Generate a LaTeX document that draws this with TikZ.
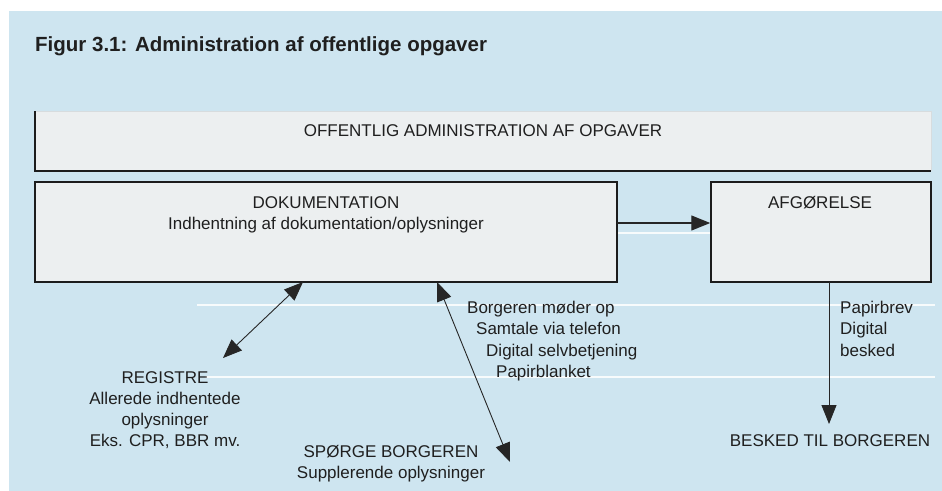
\documentclass[tikz,border=0pt]{standalone}
\usepackage{fontspec}
\setmainfont{Liberation Sans}
\usetikzlibrary{arrows.meta}
\definecolor{bgblue}{RGB}{206,229,240}
\definecolor{boxfill}{RGB}{236,239,240}
\definecolor{edgecol}{RGB}{28,28,28}
\definecolor{lightedge}{RGB}{215,220,222}
\begin{document}
\begin{tikzpicture}[x=1pt,y=-1pt,
  txt/.style={inner sep=0pt, font=\fontsize{17}{21}\selectfont, text=black!88},
  boxnode/.style={draw=edgecol, line width=1.5pt, fill=boxfill, inner sep=0pt},
  conn/.style={draw=black!85, line width=0.9pt},
  tip/.style={-{Triangle[length=19pt,width=15pt]}},
  twotip/.style={{Triangle[length=19pt,width=15pt]}-{Triangle[length=19pt,width=15pt]}},
  artline/.style={draw=white, line width=1.6pt, opacity=0.85}
]
\useasboundingbox (0,0) rectangle (942,490);
\fill[white] (0,0) rectangle (942,490);
\fill[bgblue] (9,11) rectangle (943,491);

% faint horizontal white lines of the original
\draw[artline] (197,305) -- (935,305);
\draw[artline] (205,377) -- (935,377);
\draw[artline] (617,233) -- (711,233);

% title
\node[anchor=base west, inner sep=0pt, font=\fontsize{20.5}{24}\selectfont\bfseries, text=black!88] (title) at (35,51) {Figur 3.1: Administration af offentlige opgaver};

% top box
\fill[boxfill] (35,111) rectangle (931,171);
\draw[lightedge, line width=1pt] (35,111) -- (931,111) -- (931,171);
\draw[edgecol, line width=1.5pt] (35,111) -- (35,171) -- (931,171);
\node[txt, anchor=base] (top) at (483,136) {OFFENTLIG ADMINISTRATION AF OPGAVER};

% boxes
\node[boxnode, minimum width=582pt, minimum height=100pt] (doc) at (326,232) {};
\node[boxnode, minimum width=220pt, minimum height=100pt] (afg) at (821,232) {};

\node[txt, anchor=base] (docA) at (326,208) {DOKUMENTATION};
\node[txt, anchor=base] (docB) at (326,229) {Indhentning af dokumentation/oplysninger};
\node[txt, anchor=base] (afgA) at (820,208) {AFGØRELSE};

% channel labels
\node[txt, anchor=base west] (c1) at (467,313) {Borgeren møder op};
\node[txt, anchor=base west] (c2) at (476,334.5) {Samtale via telefon};
\node[txt, anchor=base west] (c3) at (486,356) {Digital selvbetjening};
\node[txt, anchor=base west] (c4) at (496,377) {Papirblanket};

\node[txt, anchor=base west] (p1) at (840,313) {Papirbrev};
\node[txt, anchor=base west] (p2) at (840,334.5) {Digital};
\node[txt, anchor=base west] (p3) at (840,356) {besked};

% registre
\node[txt, anchor=base] (reg1) at (165,383) {REGISTRE};
\node[txt, anchor=base] (reg2) at (165,404) {Allerede indhentede};
\node[txt, anchor=base] (reg3) at (165,425) {oplysninger};
\node[txt, anchor=base] (reg4) at (165,446) {Eks. CPR, BBR mv.};

% spørge borgeren
\node[txt, anchor=base] (sp1) at (391,457) {SPØRGE BORGEREN};
\node[txt, anchor=base] (sp2) at (391,478) {Supplerende oplysninger};

% besked
\node[txt, anchor=base] (bes) at (830,446) {BESKED TIL BORGEREN};

% connector end points
\coordinate (d1) at (303,282);
\coordinate (r1) at (223,358);
\coordinate (d2) at (437,282);
\coordinate (s1) at (510,462);
\coordinate (a3) at (617,223);
\coordinate (a4) at (829,282);
\coordinate (b1) at (829,424);

\draw[conn, twotip] (r1) -- (d1);
\draw[conn, twotip] (s1) -- (d2);
\draw[conn, line width=1.3pt, tip] (a3) -- (a3 -| afg.west);
\draw[conn, tip] (a4) -- (b1);
\end{tikzpicture}
\end{document}
